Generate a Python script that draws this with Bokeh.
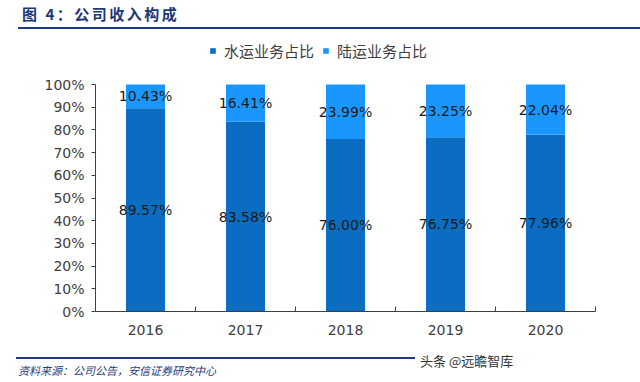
from bokeh.plotting import figure
from bokeh.models import (ColumnDataSource, FixedTicker, NumeralTickFormatter, LabelSet,
                          Legend, LegendItem, Div)
from bokeh.layouts import column
from bokeh.core.properties import value
from bokeh.embed import file_html
from bokeh.resources import INLINE

title_text = "图 4：公司收入构成"
source_text = "资料来源：公司公告，安信证券研究中心"
watermark_text = "头条 @远瞻智库"
years = ["2016", "2017", "2018", "2019", "2020"]
water = [89.57, 83.58, 76.00, 76.75, 77.96]
land = [10.43, 16.41, 23.99, 23.25, 22.04]
series_names = ["水运业务占比", "陆运业务占比"]
colors = ["#0A6DC2", "#1A97FF"]

W = 640
TOP_H, FIG_H, FOOT_H = 34, 316, 32
# frame in page px: left 95, right 595, top 35, bottom 311 (100% at 84)
FL, FR = 95, 595
F_TOP, F_BOT, Y100 = 35, 311, 84
ymax = (F_BOT - F_TOP) / (F_BOT - Y100)

p = figure(width=W, height=FIG_H, output_backend="svg", toolbar_location=None,
           x_range=(0, len(years)), y_range=(0, ymax),
           min_border_left=FL, min_border_right=W - FR,
           min_border_top=F_TOP - TOP_H, min_border_bottom=TOP_H + FIG_H - F_BOT)
p.outline_line_color = None
p.grid.visible = False
p.background_fill_color = "white"

xpos = [i + 0.5 for i in range(len(years))]
src = ColumnDataSource(dict(
    x=xpos,
    water=[v / 100 for v in water],
    land=[v / 100 for v in land],
    wl=[f"{v:.2f}%" for v in water],
    ll=[f"{v:.2f}%" for v in land],
    wy=[v / 200 for v in water],
    ly=[(w + l / 2) / 100 for w, l in zip(water, land)],
))
rs = p.vbar_stack(["water", "land"], x="x", width=0.39, color=colors, line_color=None, source=src)

for ycol, tcol in (("wy", "wl"), ("ly", "ll")):
    p.add_layout(LabelSet(x="x", y=ycol, text=tcol, source=src, text_align="center",
                          text_baseline="middle", text_font=value("DejaVu Sans"),
                          text_font_size="14px", text_color="#1a1a1a"))

AXC = "#404040"
ax = p.xaxis[0]
ax.ticker = FixedTicker(ticks=xpos, minor_ticks=list(range(len(years) + 1)))
ax.major_label_overrides = {x: y for x, y in zip(xpos, years)}
ax.major_tick_in = 0
ax.major_tick_out = 0
ax.minor_tick_in = 5
ax.minor_tick_out = 0
ax.minor_tick_line_color = AXC
ax.axis_line_color = AXC
ax.major_label_text_font = "DejaVu Sans"
ax.major_label_text_font_size = "14px"
ax.major_label_text_color = AXC
ax.major_label_standoff = 13

ay = p.yaxis[0]
ay.ticker = FixedTicker(ticks=[i / 10 for i in range(11)])
ay.formatter = NumeralTickFormatter(format="0%")
ay.bounds = (0, 1)
ay.major_tick_in = 0
ay.major_tick_out = 4
ay.minor_tick_line_color = None
ay.major_tick_line_color = AXC
ay.axis_line_color = AXC
ay.major_label_text_font = "DejaVu Sans"
ay.major_label_text_font_size = "14px"
ay.major_label_text_color = AXC
ay.major_label_standoff = 7

legend = Legend(items=[LegendItem(label=n, renderers=[r]) for n, r in zip(series_names, rs)],
                orientation="horizontal", location=(209 - FL, F_BOT - 61),
                glyph_width=7, glyph_height=7, label_standoff=8, spacing=8,
                padding=0, margin=0, border_line_color=None, background_fill_alpha=0,
                label_text_font="Noto Sans CJK SC", label_text_font_size="15px",
                label_text_color=AXC, label_height=16)
p.add_layout(legend)

BLUE = "#1B3A8C"
top_div = Div(width=W, height=TOP_H, margin=0, text=f"""
<div style="position:relative;width:{W}px;height:{TOP_H}px;">
  <div style="position:absolute;left:22px;top:3px;font-family:'Noto Sans CJK SC';font-weight:bold;
       font-size:15px;line-height:22px;letter-spacing:2.5px;color:#1B3878;white-space:nowrap;">{title_text}</div>
  <div style="position:absolute;left:18px;top:27px;width:{W - 18}px;height:2px;background:{BLUE};"></div>
</div>""")

foot_div = Div(width=W, height=FOOT_H, margin=0, text=f"""
<div style="position:relative;width:{W}px;height:{FOOT_H}px;">
  <div style="position:absolute;left:16px;top:7px;width:399px;height:1.5px;background:{BLUE};"></div>
  <div style="position:absolute;left:18px;top:12px;font-family:'Noto Sans CJK SC';font-style:italic;
       font-size:11px;line-height:16px;color:#1E3C7E;white-space:nowrap;">{source_text}</div>
  <div style="position:absolute;left:420px;top:2px;font-family:'Noto Sans CJK SC';
       font-size:13px;line-height:18px;color:#333333;white-space:nowrap;">{watermark_text}</div>
</div>""")

layout = column(top_div, p, foot_div, spacing=0)
open("out.html", "w").write(file_html(layout, INLINE))
